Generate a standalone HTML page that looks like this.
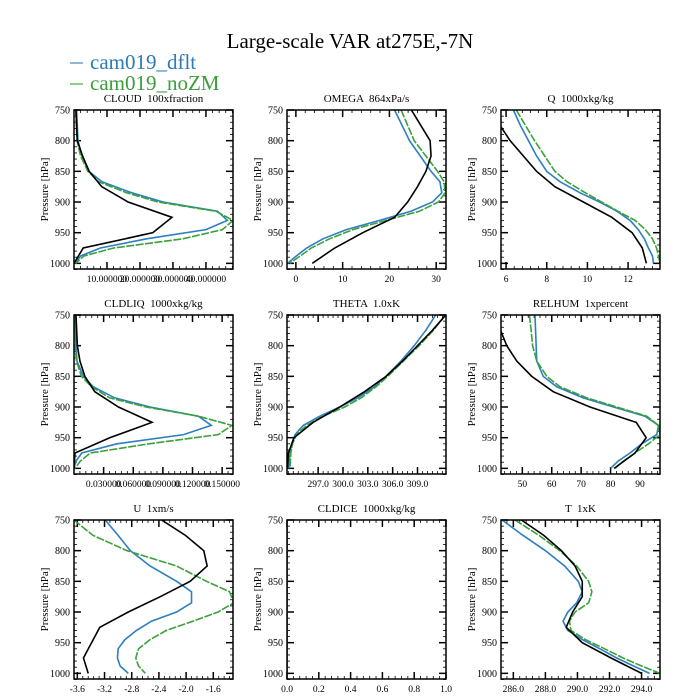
<!DOCTYPE html>
<html><head><meta charset="utf-8"><style>
html,body{margin:0;padding:0;background:#fff;}
svg{display:block;font-family:"Liberation Serif",serif;}
text{white-space:pre;}
</style></head><body>
<svg id="fig" width="700" height="700" viewBox="0 0 700 700" xmlns="http://www.w3.org/2000/svg">
<text x="350" y="48" text-anchor="middle" font-size="21">Large-scale VAR at275E,-7N</text>
<g>
<g><line x1="70" y1="63" x2="83" y2="63" stroke="#8db9dc" stroke-width="2"/><text x="90" y="69" font-size="21" fill="#2b7bba">cam019_dflt</text></g>
<g><line x1="70" y1="84" x2="83" y2="84" stroke="#93cc8e" stroke-width="2"/><text x="90" y="90" font-size="21" fill="#3a9e3a">cam019_noZM</text></g>
</g>
<g id="panels"></g>
</svg>
<script>
const obsP=[750,775,800,825,850,875,900,925,950,975,1000];
const modP=[750,775,800,825,850,867,885,900,915,930,945,960,975,988,1000];
const panelTitles=["CLOUD  100xfraction","OMEGA  864xPa/s","Q  1000xkg/kg","CLDLIQ  1000xkg/kg","THETA  1.0xK","RELHUM  1xpercent","U  1xm/s","CLDICE  1000xkg/kg","T  1xK"];
const cloudObs=[0.6,0.8,1,2.6,4.6,8.4,16.4,29.7,23.9,2.8,0];
const cloudDflt=[0.8,1,1.2,2.4,4.5,8.5,17.5,27,43.5,46.5,40,22,8,2,0.3];
const cloudNoZM=[0.5,0.7,0.9,2,4.2,7.5,16,25.5,43,48.2,45,33,12,3,0.5];
const omegaObs=[24.7,26.7,28.7,28.9,27.8,26,23.9,21.1,14.3,8.3,3.5];
const omegaDflt=[21.1,22.7,24.3,26.6,28.9,30.8,31.2,29.2,24.6,17.9,10.8,5.8,2.3,0.1,-1.8];
const omegaNoZM=[22.5,23.9,25.3,27.8,30.3,31.7,31.9,30.5,26.4,19.3,12.2,7.2,3.3,0.9,-1.3];
const qObs=[5.2,5.7,6.2,6.85,7.5,8.4,9.8,11.2,12.2,12.7,12.9];
const qDflt=[6.36,6.7,7.1,7.5,8.0,8.66,9.64,10.6,11.45,12.1,12.5,12.8,13.0,13.2,13.25];
const qNoZM=[6.5,6.95,7.4,7.9,8.4,9.0,9.9,10.7,11.5,12.35,12.85,13.2,13.4,13.5,13.57];
const liqObs=[0.002,0.0027,0.0034,0.006,0.011,0.021,0.045,0.079,0.0365,0.001,0];
const liqDflt=[0.001,0.0015,0.002,0.003,0.0095,0.0195,0.041,0.077,0.126,0.139,0.111,0.0434,0.0079,0.002,0];
const liqNoZM=[0,0.0005,0.001,0.0025,0.0075,0.0177,0.036,0.073,0.126,0.16,0.146,0.076,0.0165,0.0065,0.001];
const thetaObs=[312.4,310.8,309.0,307.2,305.2,302.6,299.6,296.4,294.1,293.4,293.3];
const thetaDflt=[311.2,310.0,308.6,307.0,305.2,303.8,301.8,299.6,297.2,295.2,294.2,293.8,293.6,293.5,293.45];
const thetaNoZM=[312.4,310.9,309.2,307.3,305.4,304.0,302.2,300.2,297.6,295.6,294.4,293.9,293.7,293.65,293.6];
const rhObs=[40,42.6,44.7,48.1,53.2,60.5,73,88.7,92.1,88.3,81.2];
const rhDflt=[54.3,54.5,54.7,54.9,57.1,61.7,70.7,81,91.7,96.3,95.7,90.6,86.6,82.6,80];
const rhNoZM=[52.4,53,53.5,54.9,58.3,62.8,71.9,82.1,92.3,96.3,96.8,92.9,88.3,84.4,81.5];
const uObs=[-2.36,-2.01,-1.74,-1.69,-1.94,-2.38,-2.85,-3.27,-3.39,-3.51,-3.44];
const uDflt=[-3.19,-3.0,-2.82,-2.53,-2.14,-1.92,-1.92,-2.14,-2.51,-2.73,-2.9,-3.0,-3.01,-2.97,-2.85];
const uNoZM=[-3.65,-3.37,-2.87,-2.14,-1.7,-1.36,-1.3,-1.53,-1.9,-2.29,-2.53,-2.7,-2.74,-2.7,-2.6];
const iceObs=[0,0,0,0,0,0,0,0,0,0,0];
const iceDflt=[0,0,0,0,0,0,0,0,0,0,0,0,0,0,0];
const iceNoZM=[0,0,0,0,0,0,0,0,0,0,0,0,0,0,0];
const tObs=[286.5,287.9,289.0,289.85,290.3,290.3,289.7,289.3,290.3,292.1,294.0];
const tDflt=[285.3,286.6,288.0,289.2,290.05,290.3,289.95,289.4,289.1,289.4,290.3,291.4,292.45,293.5,294.5];
const tNoZM=[286.1,287.6,288.9,289.95,290.7,290.9,290.7,289.85,289.5,289.6,290.5,291.7,292.85,294.0,295.15];
const cloudTicks=["10.000000","20.000000","30.000000","40.000000"];
const omegaTicks=["0","10","20","30"];
const qTicks=["6","8","10","12"];
const liqTicks=["0.030000","0.060000","0.090000","0.120000","0.150000"];
const thetaTicks=["297.0","300.0","303.0","306.0","309.0"];
const rhTicks=["50","60","70","80","90"];
const uTicks=["-3.6","-3.2","-2.8","-2.4","-2.0","-1.6"];
const iceTicks=["0.0","0.2","0.4","0.6","0.8","1.0"];
const tTicks=["286.0","288.0","290.0","292.0","294.0"];
const yTicks=["750","800","850","900","950","1000"];

const NS="http://www.w3.org/2000/svg";
function mk(tag,attrs,parent){const e=document.createElementNS(NS,tag);for(const k in attrs)e.setAttribute(k,attrs[k]);parent.appendChild(e);return e;}
const colX=[74,287,501],rowY=[110,315,520],W=159,H=159;
const specs=[
 {name:"cloud",xmin:0,xmax:48.2,ticks:cloudTicks,minor:2,obs:cloudObs,d:cloudDflt,n:cloudNoZM},
 {name:"omega",xmin:-1.9,xmax:32.1,ticks:omegaTicks,minor:2,obs:omegaObs,d:omegaDflt,n:omegaNoZM},
 {name:"q",xmin:5.75,xmax:13.57,ticks:qTicks,minor:0.4,obs:qObs,d:qDflt,n:qNoZM},
 {name:"cldliq",xmin:0,xmax:0.161,ticks:liqTicks,minor:0.006,obs:liqObs,d:liqDflt,n:liqNoZM},
 {name:"theta",xmin:293.24,xmax:312.44,ticks:thetaTicks,minor:0.6,obs:thetaObs,d:thetaDflt,n:thetaNoZM},
 {name:"relhum",xmin:42.75,xmax:96.8,ticks:rhTicks,minor:2,obs:rhObs,d:rhDflt,n:rhNoZM},
 {name:"u",xmin:-3.649,xmax:-1.31,ticks:uTicks,minor:0.08,obs:uObs,d:uDflt,n:uNoZM},
 {name:"cldice",xmin:0,xmax:1,ticks:iceTicks,minor:0.04,obs:iceObs,d:iceDflt,n:iceNoZM},
 {name:"t",xmin:285.23,xmax:295.15,ticks:tTicks,minor:0.4,obs:tObs,d:tDflt,n:tNoZM}
];
const root=document.getElementById('panels');
specs.forEach((s,i)=>{
 const x0=colX[i%3],y0=rowY[Math.floor(i/3)];
 const sx=v=>x0+(v-s.xmin)/(s.xmax-s.xmin)*W;
 const sy=p=>y0+(p-750)*0.6134;
 const g=mk('g',{},root);
 
 
 const cp=mk('clipPath',{id:'c'+i},g);mk('rect',{x:x0,y:y0,width:W,height:H},cp);
 const t=mk('text',{x:x0+W/2,y:y0-8,'text-anchor':'middle','font-size':'11'},g);t.textContent=panelTitles[i];
 
 
 const yl=mk('text',{x:0,y:0,'text-anchor':'middle','font-size':'11',transform:`translate(${x0-26},${y0+H/2}) rotate(-90)`},g);yl.textContent="Pressure [hPa]";
 
 
 for(let p=750;p<=1010;p+=10){const y=sy(p);const maj=(p%50===0);const L=maj?7:3;
  mk('line',{x1:x0,y1:y,x2:x0+L,y2:y,stroke:'#000','stroke-width':maj?1.5:0.8},g);
  mk('line',{x1:x0+W,y1:y,x2:x0+W-L,y2:y,stroke:'#000','stroke-width':maj?1.5:0.8},g);}
 yTicks.forEach(l=>{const tt=mk('text',{x:x0-4,y:sy(+l)+3.5,'text-anchor':'end','font-size':'10'},g);tt.textContent=l;
  
  });
 const start=Math.ceil(s.xmin/s.minor-1e-6);
 for(let k=start;k*s.minor<=s.xmax+1e-9;k++){const x=sx(k*s.minor);
  mk('line',{x1:x,y1:y0+H,x2:x,y2:y0+H-3,stroke:'#000','stroke-width':0.8},g);
  mk('line',{x1:x,y1:y0,x2:x,y2:y0+3,stroke:'#000','stroke-width':0.8},g);}
 s.ticks.forEach(l=>{const x=sx(parseFloat(l));
  mk('line',{x1:x,y1:y0+H,x2:x,y2:y0+H-7,stroke:'#000','stroke-width':1.5},g);
  mk('line',{x1:x,y1:y0,x2:x,y2:y0+7,stroke:'#000','stroke-width':1.5},g);
  const tt=mk('text',{x:x,y:y0+H+13,'text-anchor':'middle','font-size':'9.5'},g);tt.textContent=l;
  
  });
 const ser=[[s.obs,obsP,'#000',null,'obs'],[s.d,modP,'#2c7fc0',null,'dflt'],[s.n,modP,'#3aa13a','8 1.5','nozm']];
 const order=s.name==='cldice'?[0,1,2]:[1,2,0];
 order.forEach(j=>{const [v,P,c,da,nm]=ser[j];
  const pts=v.map((val,k)=>sx(val).toFixed(2)+','+sy(P[k]).toFixed(2)).join(' ');
  const pl=mk('polyline',{points:pts,fill:'none',stroke:c,'stroke-width':1.6,'clip-path':`url(#c${i})`},g);
  if(da)pl.setAttribute('stroke-dasharray',da);
  
  });
 const fr=mk('rect',{x:x0,y:y0,width:W,height:H,fill:'none',stroke:'#000','stroke-width':1.5},g);
 
 
});
</script>
</body></html>
